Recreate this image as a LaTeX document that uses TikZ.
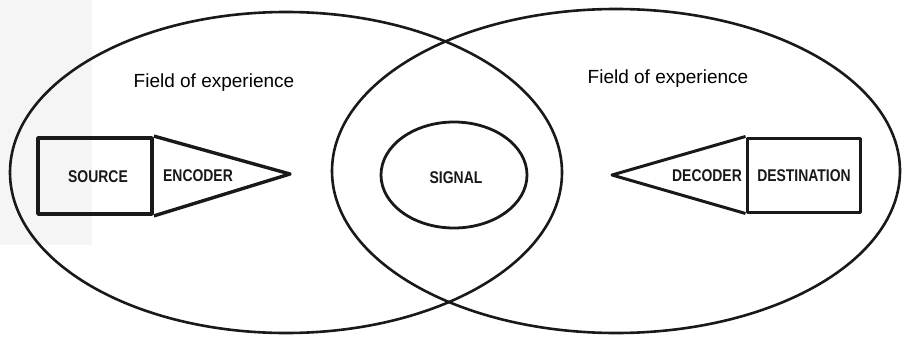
\documentclass[tikz,border=0pt]{standalone}
\usepackage{fontspec}
\setmainfont{Liberation Sans}
\newfontfamily\condfont[FakeStretch=0.82]{Liberation Sans}
\usetikzlibrary{shapes.geometric}
\begin{document}
\begin{tikzpicture}[x=1pt,y=-1pt,
  field/.style={draw=black!90,line width=2.6pt},
  sig/.style={draw=black!90,line width=2.8pt},
  boxline/.style={draw=black!90,line width=3.4pt,line join=round},
  boxlabel/.style={font=\condfont\bfseries\fontsize{17}{19}\selectfont,inner sep=0pt,text=black!90},
  fieldlabel/.style={font=\fontsize{19}{22}\selectfont,inner sep=0pt,text=black}]
\useasboundingbox (0,0) rectangle (904,337);
\fill[black!4] (0,0) rectangle (92,245);
% fields of experience
\draw[field] (286,172.5) ellipse [x radius=276, y radius=160.5];
\draw[field] (616,171) ellipse [x radius=284, y radius=162];
\node[fieldlabel] (fl) at (214,83) {Field of experience};
\node[fieldlabel] (fr) at (668,79) {Field of experience};
% signal
\node[sig,ellipse,minimum width=146pt,minimum height=106pt,inner sep=0pt] (signal) at (454,175) {};
\node[boxlabel] (signaltext) at (456,178) {SIGNAL};
% source / encoder
\node[boxline,draw,rectangle,line width=3.8pt,minimum width=114pt,minimum height=76pt,inner sep=0pt] (source) at (95,176) {};
\coordinate (enctip) at (290,174);
\draw[boxline] (source.north east) -- (enctip) -- (source.south east);
\node[boxlabel] (sourcetext) at (98,177) {SOURCE};
\node[boxlabel] (encodertext) at (198,176) {ENCODER};
% decoder / destination
\node[boxline,draw,rectangle,line width=3pt,minimum width=113pt,minimum height=74pt,inner sep=0pt] (dest) at (803.5,175) {};
\coordinate (dectip) at (612,175);
\draw[boxline,line width=3pt] (dest.north west) -- (dectip) -- (dest.south west);
\node[boxlabel] (destext) at (804,176) {DESTINATION};
\node[boxlabel] (dectext) at (707,176) {DECODER};
\end{tikzpicture}
\end{document}
